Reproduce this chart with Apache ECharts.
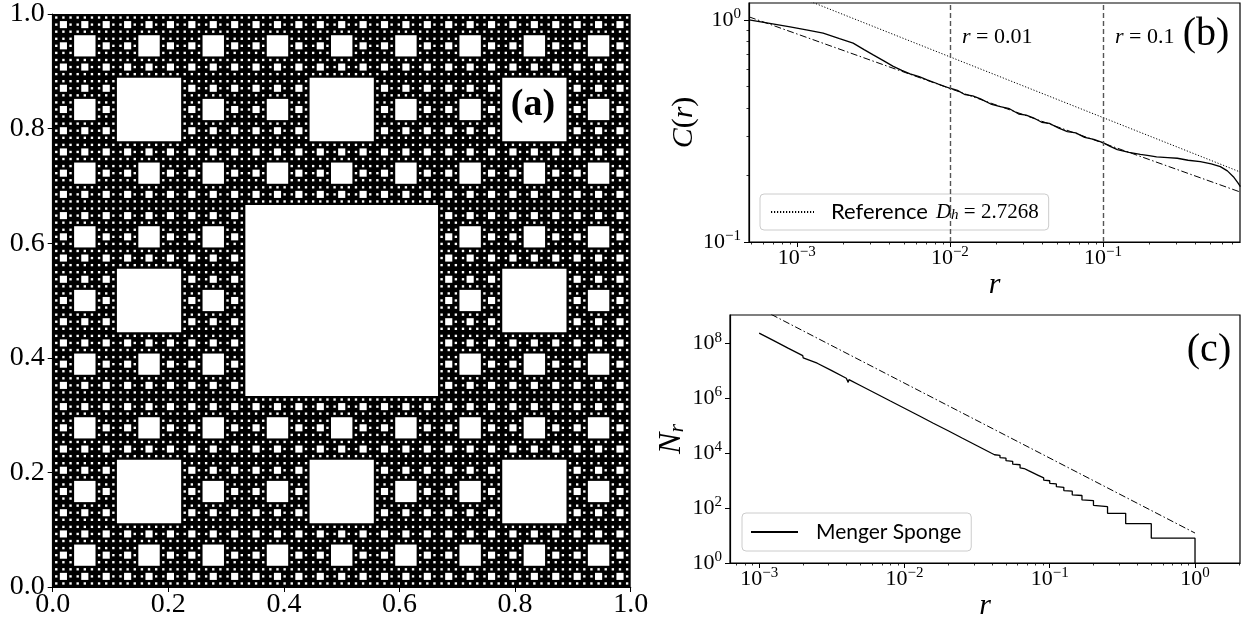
<!DOCTYPE html>
<html><head><meta charset="utf-8">
<script src="https://cdn.jsdelivr.net/npm/echarts@6/dist/echarts.min.js"></script>
<style>html,body{margin:0;padding:0;background:#fff}#c{width:1243px;height:625px}</style>
</head><body><div id="c"></div>
<script>
// ---------- Panel (a): Sierpinski carpet ----------
const carpetLevels = 5;
const carpetTicks = [0, 0.2, 0.4, 0.6, 0.8, 1.0];

// ---------- Panel (b): correlation integral ----------
const corrR = [4.875e-4, 6.5e-4, 9.04e-4, 1.2e-3, 1.486e-3, 1.9e-3, 2.333e-3, 2.75e-3, 3.155e-3, 3.7e-3, 4.266e-3, 4.85e-3, 5.495e-3, 6.3e-3, 7.096e-3, 8.4e-3, 0.01, 0.0112, 0.01259, 0.0141, 0.01585, 0.0185, 0.02133, 0.0245, 0.02818, 0.0315, 0.0351, 0.0398, 0.0447, 0.0515, 0.0585, 0.0665, 0.0759, 0.0871, 0.1, 0.1115, 0.1242, 0.148, 0.1754, 0.2, 0.2239, 0.265, 0.306, 0.36, 0.4325, 0.51, 0.5848, 0.65, 0.7112, 0.76, 0.7907];
const corrC = [1.0, 0.967, 0.930, 0.896, 0.871, 0.823, 0.785, 0.734, 0.695, 0.653, 0.617, 0.592, 0.571, 0.555, 0.537, 0.514, 0.492, 0.481, 0.460, 0.455, 0.4406, 0.4178, 0.407, 0.398, 0.3767, 0.3724, 0.3622, 0.3459, 0.342, 0.3251, 0.314, 0.3097, 0.2958, 0.2897, 0.280, 0.2692, 0.2606, 0.2529, 0.2477, 0.2449, 0.2415, 0.2399, 0.2382, 0.2333, 0.2301, 0.2249, 0.2183, 0.2089, 0.1968, 0.1849, 0.1774];
const corrFitR = [4.87e-4, 0.786];
const corrFitC = [1.031, 0.168];
const refR = [4.87e-4, 0.786];
const refC = [1.556, 0.2067];
const markerR = [0.01, 0.1];
const bXMajor = [1e-3, 1e-2, 1e-1];
const bXMinor = [5e-4, 6e-4, 7e-4, 8e-4, 9e-4, 2e-3, 3e-3, 4e-3, 5e-3, 6e-3, 7e-3, 8e-3, 9e-3, 0.02, 0.03, 0.04, 0.05, 0.06, 0.07, 0.08, 0.09, 0.2, 0.3, 0.4, 0.5, 0.6, 0.7];
const bYMajor = [0.1, 1];
const bYMinor = [0.2, 0.3, 0.4, 0.5, 0.6, 0.7, 0.8, 0.9];

// ---------- Panel (c): box counting ----------
const boxR = [1e-3, 1.26e-3, 1.58e-3, 1.995e-3, 2.01e-3, 2.03e-3, 2.51e-3, 3.16e-3, 3.98e-3, 4.1e-3, 4.15e-3, 5.01e-3, 6.31e-3, 7.94e-3, 0.01, 0.0126, 0.0158, 0.02, 0.0251, 0.0316, 0.0398,
  0.04167, 0.04545, 0.04545, 0.05, 0.05, 0.0556, 0.0556, 0.0625, 0.0625, 0.0667, 0.0667, 0.0714, 0.0714, 0.0769, 0.0769, 0.0833, 0.0833, 0.0909, 0.0909, 0.1, 0.1, 0.1111, 0.1111, 0.125, 0.125, 0.1429, 0.1429, 0.1667, 0.1667, 0.2, 0.2, 0.25, 0.25, 0.3333, 0.3333, 0.5, 0.5, 1.0, 1.0];
const boxN = [2.29e8, 1.22e8, 6.52e7, 3.48e7, 2.9e7, 3.39e7, 1.85e7, 9.89e6, 5.27e6, 3.72e6, 4.68e6, 2.81e6, 1.50e6, 8.0e5, 4.27e5, 2.28e5, 1.21e5, 6.47e4, 3.45e4, 1.84e4, 9800,
  8670, 8240, 6840, 6500, 5270, 5000, 3950, 3750, 2870, 2730, 2400, 2280, 1990, 1890, 1625, 1545, 1307, 1240, 1030, 980, 794, 755, 596, 566, 432, 410, 300, 285, 197, 187, 125, 112, 64, 64, 27, 27, 8, 8, 1];
const boxFitR = [1e-3, 1];
const boxFitN = [1.86e9, 12.3];
const cXMajor = [1e-3, 1e-2, 1e-1, 1];
const cXMinor = [7e-4, 8e-4, 9e-4, 2e-3, 3e-3, 4e-3, 5e-3, 6e-3, 7e-3, 8e-3, 9e-3, 0.02, 0.03, 0.04, 0.05, 0.06, 0.07, 0.08, 0.09, 0.2, 0.3, 0.4, 0.5, 0.6, 0.7, 0.8, 0.9, 2];
const cYMajor = [1, 1e2, 1e4, 1e6, 1e8];

// ---------- helpers ----------
const serif = "'Liberation Serif','DejaVu Serif',serif";
const sans = "Lato,'Open Sans',sans-serif";

function carpetHoles(x0, y0, s, level, out) {
  if (level === 0) return;
  const t = s / 3;
  out.push([x0 + t, y0 + t, t, 0]);
  for (let i = 0; i < 3; i++) for (let j = 0; j < 3; j++) {
    if (i === 1 && j === 1) continue;
    carpetHoles(x0 + i * t, y0 + j * t, t, level - 1, out);
  }
}
const carpetData = [[0, 0, 1, 1]];
carpetHoles(0, 0, 1, carpetLevels, carpetData);

const zip = (a, b) => a.map((v, i) => [v, b[i]]);
function powLabel(v) {
  const e = Math.round(Math.log10(v));
  return '{b|10}{s|' + (e < 0 ? '\u2212' + (-e) : e) + '}';
}
const powRich = {
  b: { fontFamily: serif, fontSize: 22, color: '#000', lineHeight: 26 },
  s: { fontFamily: serif, fontSize: 15, color: '#000', lineHeight: 15, verticalAlign: 'top' }
};
const blackLine = { show: true, lineStyle: { color: '#000', width: 1.2 } };

function logAxisMajor(grid, min, max, vals, pos, extra) {
  return Object.assign({
    type: 'log', logBase: 10, gridIndex: grid, min: min, max: max, position: pos,
    axisLine: blackLine, splitLine: { show: false },
    axisTick: { show: true, length: 5, customValues: vals, lineStyle: { color: '#000', width: 1 } },
    axisLabel: { show: true, customValues: vals, formatter: powLabel, rich: powRich, margin: pos === 'left' ? 8 : 3 }
  }, extra || {});
}
function logAxisMinor(grid, min, max, vals, pos) {
  return {
    type: 'log', logBase: 10, gridIndex: grid, min: min, max: max, position: pos,
    axisLine: { show: false }, splitLine: { show: false }, axisLabel: { show: false },
    axisTick: { show: true, length: 2.5, customValues: vals, lineStyle: { color: '#000', width: 0.8 } }
  };
}
const linAxis = (pos) => ({
  type: 'value', gridIndex: 0, min: 0, max: 1, interval: 0.2, position: pos,
  axisLine: blackLine, splitLine: { show: false },
  axisTick: { show: true, length: 5, customValues: carpetTicks, lineStyle: { color: '#000' } },
  axisLabel: { customValues: carpetTicks, formatter: v => v.toFixed(1), fontFamily: serif, fontSize: 28, color: '#000', margin: pos === 'left' ? 8 : 4 }
});

const bXMin = 4.87e-4, bXMax = 0.786, bYMin = 0.1, bYMax = 1.19;
const cXMin = 6.3e-4, cXMax = 2.04, cYMin = 1, cYMax = 1.05e9;

const option = {
  animation: false,
  backgroundColor: '#fff',
  grid: [
    { left: 52.7, top: 9, width: 578, height: 578, show: false },
    { left: 749, top: 3, width: 491, height: 239, show: true, borderColor: '#000', borderWidth: 1.2 },
    { left: 730, top: 315, width: 510, height: 248, show: true, borderColor: '#000', borderWidth: 1.2 }
  ],
  xAxis: [
    linAxis('bottom'),
    logAxisMajor(1, bXMin, bXMax, bXMajor, 'bottom', {
      name: '{i|r}', nameLocation: 'middle', nameGap: 24,
      nameTextStyle: { rich: { i: { fontFamily: serif, fontStyle: 'italic', fontSize: 30, color: '#000' } } }
    }),
    logAxisMinor(1, bXMin, bXMax, bXMinor, 'bottom'),
    logAxisMajor(2, cXMin, cXMax, cXMajor, 'bottom', {
      name: '{i|r}', nameLocation: 'middle', nameGap: 22,
      nameTextStyle: { rich: { i: { fontFamily: serif, fontStyle: 'italic', fontSize: 30, color: '#000' } } }
    }),
    logAxisMinor(2, cXMin, cXMax, cXMinor, 'bottom')
  ],
  yAxis: [
    linAxis('left'),
    logAxisMajor(1, bYMin, bYMax, bYMajor, 'left', {
      name: '{i|C}{n|(}{i|r}{n|)}', nameLocation: 'middle', nameGap: 48, nameRotate: 90,
      nameTextStyle: { rich: {
        i: { fontFamily: serif, fontStyle: 'italic', fontSize: 30, color: '#000' },
        n: { fontFamily: serif, fontSize: 30, color: '#000' } } }
    }),
    logAxisMinor(1, bYMin, bYMax, bYMinor, 'left'),
    logAxisMajor(2, cYMin, cYMax, cYMajor, 'left', {
      name: '{i|N}{sub|r}', nameLocation: 'middle', nameGap: 40, nameRotate: 90,
      nameTextStyle: { rich: {
        i: { fontFamily: serif, fontStyle: 'italic', fontSize: 32, color: '#000', lineHeight: 34 },
        sub: { fontFamily: serif, fontStyle: 'italic', fontSize: 22, color: '#000', lineHeight: 22, verticalAlign: 'bottom' } } }
    })
  ],
  legend: [
    {
      data: ['Reference'], left: 760, top: 194, orient: 'horizontal',
      itemWidth: 43, itemHeight: 14, padding: [7, 10, 7, 10],
      itemStyle: { opacity: 0, color: 'rgba(0,0,0,0)', borderWidth: 0 },
      borderColor: '#cccccc', borderWidth: 1, borderRadius: 4, backgroundColor: 'rgba(255,255,255,0.8)',
      formatter: () => '{t|Reference}{i|D}{sub|h}{m| = 2.7268}',
      textStyle: { lineHeight: 22, rich: {
        t: { fontFamily: sans, fontSize: 22, color: '#000', padding: [0, 8, 0, 12] },
        i: { fontFamily: serif, fontStyle: 'italic', fontSize: 21, color: '#000' },
        sub: { fontFamily: serif, fontStyle: 'italic', fontSize: 15, color: '#000', verticalAlign: 'bottom', lineHeight: 14 },
        m: { fontFamily: serif, fontSize: 21, color: '#000' } } }
    },
    {
      data: ['Menger Sponge'], left: 742, top: 513, orient: 'horizontal',
      itemWidth: 47, itemHeight: 14, padding: [8, 10, 8, 8],
      itemStyle: { opacity: 0, color: 'rgba(0,0,0,0)', borderWidth: 0 },
      borderColor: '#cccccc', borderWidth: 1, borderRadius: 4, backgroundColor: 'rgba(255,255,255,0.8)',
      formatter: () => '{t|Menger Sponge}',
      textStyle: { lineHeight: 22, rich: { t: { fontFamily: sans, fontSize: 21, color: '#000', padding: [0, 0, 0, 13] } } }
    }
  ],
  series: [
    {
      type: 'custom', xAxisIndex: 0, yAxisIndex: 0, silent: true, progressive: 0,
      data: carpetData,
      renderItem: (params, api) => {
        const x = api.value(0), y = api.value(1), s = api.value(2), bg = api.value(3);
        const p0 = api.coord([x, y + s]);
        const p1 = api.coord([x + s, y]);
        return { type: 'rect', shape: { x: p0[0], y: p0[1], width: p1[0] - p0[0], height: p1[1] - p0[1] },
                 style: { fill: bg ? '#000' : '#fff' } };
      }
    },
    {
      name: 'C(r)', type: 'line', xAxisIndex: 1, yAxisIndex: 1, data: zip(corrR, corrC),
      symbol: 'none', lineStyle: { color: '#000', width: 1.3 },
      markLine: { silent: true, symbol: ['none', 'none'], label: { show: false },
        lineStyle: { color: '#555', type: [5, 3], width: 1.4 },
        data: markerR.map(v => ({ xAxis: v })) }
    },
    {
      name: 'fitB', type: 'line', xAxisIndex: 1, yAxisIndex: 1, data: zip(corrFitR, corrFitC),
      symbol: 'none', lineStyle: { color: '#000', width: 1, type: [7, 2.5, 1.5, 2.5] }
    },
    {
      name: 'Reference', type: 'line', xAxisIndex: 1, yAxisIndex: 1, data: zip(refR, refC),
      symbol: 'none', itemStyle: { color: '#000' }, lineStyle: { color: '#000', width: 1, type: [1.2, 1.8] }
    },
    {
      name: 'Menger Sponge', type: 'line', xAxisIndex: 3, yAxisIndex: 3, data: zip(boxR, boxN),
      symbol: 'none', itemStyle: { color: '#000' }, lineStyle: { color: '#000', width: 1.3 }
    },
    {
      name: 'fitC', type: 'line', xAxisIndex: 3, yAxisIndex: 3, data: zip(boxFitR, boxFitN),
      symbol: 'none', lineStyle: { color: '#000', width: 1, type: [7, 2.5, 1.5, 2.5] }
    }
  ],
  graphic: [
    { type: 'text', x: 533, y: 105, z: 100, style: { text: '(a)', fontFamily: serif, fontWeight: 'bold', fontSize: 38, fill: '#000', align: 'center', verticalAlign: 'middle' } },
    { type: 'text', x: 962, y: 37, z: 100, style: { text: '{i|r}{n| = 0.01}', verticalAlign: 'middle',
        rich: { i: { fontFamily: serif, fontStyle: 'italic', fontSize: 22, fill: '#000' }, n: { fontFamily: serif, fontSize: 22, fill: '#000' } } } },
    { type: 'text', x: 1115, y: 37, z: 100, style: { text: '{i|r}{n| = 0.1}', verticalAlign: 'middle',
        rich: { i: { fontFamily: serif, fontStyle: 'italic', fontSize: 22, fill: '#000' }, n: { fontFamily: serif, fontSize: 22, fill: '#000' } } } },
    { type: 'text', x: 1206, y: 34, z: 100, style: { text: '(b)', fontFamily: serif, fontSize: 40, fill: '#000', align: 'center', verticalAlign: 'middle' } },
    { type: 'text', x: 1209, y: 350, z: 100, style: { text: '(c)', fontFamily: serif, fontSize: 40, fill: '#000', align: 'center', verticalAlign: 'middle' } }
  ]
};
const chart = echarts.init(document.getElementById('c'), null, { renderer: 'canvas' });
chart.setOption(option);
</script>
</body></html>
